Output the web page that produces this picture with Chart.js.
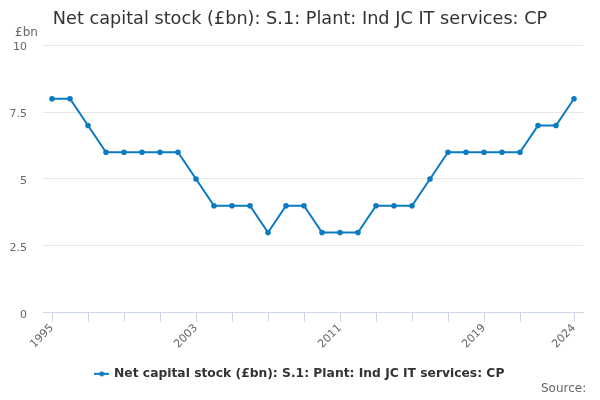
<!DOCTYPE html>
<html>
<head>
<meta charset="utf-8">
<script src="https://cdn.jsdelivr.net/npm/chart.js@4"></script>
<style>
html,body{margin:0;padding:0;background:#fff;}
#wrap{position:relative;width:600px;height:400px;}
.lbl{position:absolute;font-family:"DejaVu Sans",sans-serif;color:#666;white-space:nowrap;}
</style>
</head>
<body>
<div id="wrap">
<canvas id="c" width="600" height="400"></canvas>
<div class="lbl" style="left:15px;top:25px;font-size:12px;">£bn</div>
<div class="lbl" style="left:541px;top:381px;font-size:12px;">Source:</div>
</div>
<script>
const years = ["1995","1996","1997","1998","1999","2000","2001","2002","2003","2004","2005","2006","2007","2008","2009","2010","2011","2012","2013","2014","2015","2016","2017","2018","2019","2020","2021","2022","2023","2024"];
const values = [8,8,7,6,6,6,6,6,5,4,4,4,3,4,4,3,3,3,4,4,4,5,6,6,6,6,6,7,7,8];
const seriesName = "Net capital stock (£bn): S.1: Plant: Ind JC IT services: CP";
const shownLabels = ["1995","2003","2011","2019","2024"];
const yTicks = [0,2.5,5,7.5,10];

const color = "#0b7bc1";
const font = "'DejaVu Sans', sans-serif";

const icon = document.createElement('canvas');
icon.width = 15; icon.height = 8;
(function(){
  const g = icon.getContext('2d');
  g.strokeStyle = color; g.lineWidth = 2;
  g.beginPath(); g.moveTo(0,4); g.lineTo(15,4); g.stroke();
  g.fillStyle = color; g.beginPath(); g.arc(7.5,4,2.5,0,Math.PI*2); g.fill();
})();

new Chart(document.getElementById('c'), {
  type: 'line',
  data: {
    labels: years,
    datasets: [{
      label: seriesName,
      data: values,
      borderColor: color,
      backgroundColor: color,
      borderWidth: 2,
      pointRadius: 1.8,
      pointHoverRadius: 3,
      tension: 0
    }]
  },
  options: {
    responsive: false,
    animation: false,
    devicePixelRatio: 1,
    layout: { padding: { left: 0, right: 0, top: 0, bottom: 10 } },
    plugins: {
      title: {
        display: true,
        text: seriesName,
        color: '#333',
        font: { family: font, size: 17.7, weight: 'normal' },
        padding: { top: 9, bottom: 15 }
      },
      legend: {
        position: 'bottom',
        labels: {
          color: '#333',
          font: { family: font, size: 12.3, weight: 'bold' },
          usePointStyle: true,
          padding: 10,
          generateLabels: (chart) => [{
            text: seriesName,
            pointStyle: icon,
            fillStyle: color,
            strokeStyle: color,
            lineWidth: 0,
            hidden: false,
            datasetIndex: 0,
            fontColor: '#333'
          }]
        }
      },
      tooltip: { enabled: false }
    },
    scales: {
      x: {
        offset: true,
        grid: {
          drawOnChartArea: false,
          drawTicks: true,
          tickLength: 9,
          tickColor: (ctx) => {
            const i = ctx.index;
            return (i % 2 === 0 && i <= 26) || i === years.length - 1 ? '#ccd6eb' : 'rgba(0,0,0,0)';
          }
        },
        border: { color: '#ccd6eb', width: 1 },
        ticks: {
          autoSkip: false,
          maxRotation: 45,
          minRotation: 45,
          color: '#666',
          font: { family: font, size: 11 },
          padding: 0,
          callback: function(v, i) {
            const l = years[i];
            return shownLabels.includes(l) ? l : '';
          }
        },
        afterFit: (s) => { s.height = 45; }
      },
      y: {
        min: 0,
        max: 10,
        afterBuildTicks: (s) => { s.ticks = yTicks.map(v => ({ value: v })); },
        grid: { color: '#e6e6e6', drawTicks: false },
        border: { display: false },
        ticks: {
          color: '#666',
          font: { family: font, size: 11 },
          padding: 16,
          labelOffset: 2,
          callback: (v) => String(v)
        },
        afterFit: (s) => { s.width = 43; }
      },
      yRight: {
        position: 'right',
        display: true,
        min: 0,
        max: 10,
        grid: { display: false, drawTicks: false },
        border: { display: false },
        ticks: { display: false },
        afterFit: (s) => { s.width = 17; }
      }
    }
  }
});
</script>
</body>
</html>
